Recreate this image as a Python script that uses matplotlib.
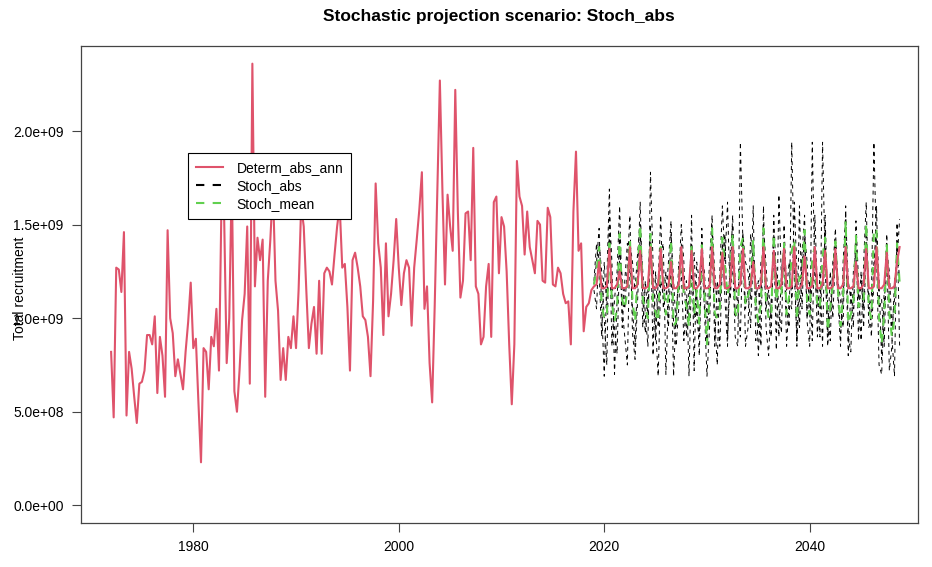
import matplotlib.pyplot as plt
import numpy as np

plt.rcParams["font.family"] = ["Liberation Sans", "DejaVu Sans"]

# quarterly recruitment, in units of 1e9
start_year = 1972.0
proj_start = 2019.0

determ_hist = [
    0.82, 0.47, 1.27, 1.26, 1.14, 1.46, 0.48, 0.82, 0.73, 0.58, 0.44, 0.65,
    0.66, 0.72, 0.91, 0.91, 0.86, 1.01, 0.60, 0.90, 0.80, 0.58, 1.47, 1.00,
    0.92, 0.69, 0.78, 0.70, 0.62, 0.82, 0.98, 1.19, 0.84, 0.89, 0.55, 0.23,
    0.84, 0.82, 0.62, 0.90, 0.85, 1.05, 0.72, 1.64, 1.55, 0.76, 1.00, 1.76,
    0.61, 0.50, 0.72, 0.99, 1.13, 1.49, 0.65, 2.36, 1.17, 1.43, 1.31, 1.42,
    0.58, 1.20, 1.42, 1.70, 1.20, 1.04, 0.67, 0.84, 0.67, 0.90, 0.84, 1.01,
    0.84, 1.15, 1.60, 1.49, 1.15, 0.84, 0.97, 1.06, 0.81, 1.20, 0.81, 1.24,
    1.27, 1.25, 1.18, 1.34, 1.49, 1.60, 1.27, 1.29, 1.06, 0.72, 1.31, 1.35,
    1.27, 1.17, 1.01, 0.99, 0.90, 0.69, 1.09, 1.72, 1.40, 1.27, 0.91, 1.40,
    1.01, 1.13, 1.31, 1.53, 1.27, 1.07, 1.24, 1.31, 1.27, 0.96, 1.27, 1.42,
    1.58, 1.78, 1.05, 1.17, 0.76, 0.55, 1.07, 1.66, 2.27, 1.68, 1.18, 1.66,
    1.49, 1.36, 2.22, 1.57, 1.11, 1.20, 1.56, 1.57, 1.31, 1.91, 1.17, 1.13,
    0.86, 0.90, 1.17, 1.29, 0.90, 1.62, 1.65, 1.24, 1.54, 1.49, 1.25, 0.86,
    0.54, 0.86, 1.84, 1.65, 1.60, 1.34, 1.57, 1.38, 1.31, 1.24, 1.52, 1.50,
    1.20, 1.19, 1.59, 1.54, 1.18, 1.17, 1.27, 1.24, 1.13, 1.08, 1.09, 0.86,
    1.57, 1.89, 1.36, 1.40, 0.93, 1.06, 1.08, 1.15,
]

# deterministic projection 2019-2048 (one year per group of four)
determ_proj = [
    1.17, 1.18, 1.30, 1.16,  1.16, 1.17, 1.37, 1.16,  1.16, 1.18, 1.25, 1.16,
    1.16, 1.17, 1.38, 1.16,  1.16, 1.18, 1.36, 1.16,  1.16, 1.17, 1.38, 1.16,
    1.16, 1.18, 1.37, 1.16,  1.16, 1.17, 1.30, 1.16,  1.16, 1.18, 1.38, 1.16,
    1.16, 1.17, 1.36, 1.16,  1.16, 1.18, 1.37, 1.16,  1.16, 1.17, 1.38, 1.16,
    1.16, 1.18, 1.35, 1.16,  1.16, 1.17, 1.38, 1.16,  1.16, 1.18, 1.37, 1.16,
    1.16, 1.17, 1.30, 1.16,  1.16, 1.18, 1.38, 1.16,  1.16, 1.17, 1.36, 1.16,
    1.16, 1.18, 1.37, 1.16,  1.16, 1.17, 1.38, 1.16,  1.16, 1.18, 1.33, 1.16,
    1.16, 1.17, 1.38, 1.16,  1.16, 1.18, 1.36, 1.16,  1.16, 1.17, 1.37, 1.16,
    1.16, 1.18, 1.38, 1.16,  1.16, 1.17, 1.30, 1.16,  1.16, 1.18, 1.37, 1.16,
    1.16, 1.17, 1.38, 1.16,  1.16, 1.18, 1.35, 1.16,  1.16, 1.17, 1.30, 1.38,
]

stoch_run1 = [
    1.18, 1.30, 1.48, 1.05,  0.69, 1.20, 1.69, 1.10,  0.95, 0.81, 1.35, 1.22,
    1.05, 1.28, 1.55, 0.92,  0.78, 1.10, 1.45, 1.25,  1.02, 0.85, 1.78, 1.30,
    0.95, 0.69, 1.20, 1.12,  1.10, 1.30, 1.52, 0.98,  0.85, 1.05, 1.40, 1.15,
    1.20, 0.69, 1.25, 1.35,  1.00, 0.90, 1.48, 1.10,  0.88, 1.15, 1.38, 1.00,
    0.75, 1.25, 1.60, 1.30,  1.62, 1.10, 1.30, 0.90,  0.85, 1.94, 1.40, 1.05,
    1.15, 0.95, 1.35, 1.20,  0.80, 1.10, 1.50, 1.28,  1.05, 0.90, 1.45, 0.83,
    1.66, 1.20, 1.30, 1.05,  0.95, 1.94, 1.25, 0.88,  1.10, 1.35, 1.55, 0.98,
    0.85, 1.94, 1.20, 1.10,  0.90, 1.94, 1.30, 0.85,  1.05, 1.25, 1.48, 1.15,
    0.92, 1.10, 1.40, 0.80,  1.15, 0.95, 1.52, 1.20,  0.88, 1.30, 1.62, 1.05,
    1.10, 1.94, 1.35, 0.75,  0.70, 1.05, 1.45, 1.10,  0.90, 0.69, 1.51, 0.85,
]

stoch_run2 = [
    1.15, 1.05, 1.40, 1.25,  1.00, 0.75, 1.55, 1.30,  0.70, 1.10, 1.45, 0.95,
    1.20, 1.40, 1.30, 1.05,  0.85, 1.25, 1.62, 1.10,  0.92, 1.15, 1.50, 0.80,
    1.25, 0.95, 1.35, 1.40,  0.70, 1.10, 1.45, 1.20,  0.95, 1.30, 1.25, 0.88,
    1.10, 1.00, 1.55, 0.72,  1.30, 1.20, 1.35, 1.05,  0.69, 0.95, 1.50, 1.25,
    1.05, 0.85, 1.30, 1.45,  0.90, 1.20, 1.55, 1.00,  1.10, 1.30, 1.45, 0.85,
    0.95, 1.45, 1.30, 1.10,  1.20, 0.85, 1.60, 0.95,  0.80, 1.10, 1.35, 1.25,
    1.05, 0.92, 1.50, 1.15,  1.30, 1.10, 1.40, 0.85,  1.60, 1.05, 1.45, 1.30,
    1.00, 1.20, 1.35, 0.90,  1.25, 0.85, 1.55, 1.05,  0.88, 1.30, 1.40, 1.20,
    1.10, 0.95, 1.60, 0.90,  0.82, 1.25, 1.35, 1.10,  1.20, 1.05, 1.50, 0.95,
    1.00, 1.30, 1.45, 1.20,  0.78, 1.15, 1.40, 0.72,  0.85, 1.20, 1.30, 1.53,
]

stoch_run3 = [
    1.20, 1.40, 1.25, 0.90,  1.30, 1.05, 1.45, 0.85,  1.10, 1.25, 1.60, 1.05,
    0.90, 0.75, 1.40, 1.30,  1.15, 1.35, 1.50, 0.95,  1.20, 1.00, 1.40, 1.15,
    0.88, 1.20, 1.55, 1.05,  1.25, 0.95, 1.30, 0.69,  1.05, 1.20, 1.50, 1.30,
    0.90, 1.15, 1.40, 1.00,  1.15, 0.80, 1.35, 1.25,  1.00, 1.30, 1.55, 0.85,
    1.20, 1.05, 1.40, 1.10,  0.85, 1.35, 1.50, 1.20,  1.05, 0.90, 1.45, 1.30,
    1.25, 1.10, 1.60, 0.88,  0.95, 1.30, 1.35, 1.05,  1.15, 1.00, 1.55, 1.20,
    0.90, 1.25, 1.40, 0.85,  1.10, 1.05, 1.62, 1.25,  0.95, 1.30, 1.40, 1.00,
    1.20, 0.88, 1.55, 1.15,  1.05, 1.20, 1.45, 0.90,  1.25, 1.00, 1.35, 1.10,
    0.85, 1.30, 1.55, 1.20,  1.10, 1.05, 1.45, 0.88,  1.25, 0.95, 1.40, 1.15,
    0.90, 1.20, 1.60, 1.05,  1.10, 0.85, 1.35, 1.25,  0.95, 1.10, 1.40, 1.20,
]

stoch_mean = [
    1.18, 1.25, 1.38, 1.07,  1.00, 1.00, 1.40, 1.08,  0.98, 1.05, 1.45, 1.10,
    1.05, 1.15, 1.42, 1.09,  0.98, 1.25, 1.50, 1.10,  1.05, 1.00, 1.45, 1.08,
    1.03, 0.98, 1.38, 1.19,  1.02, 1.12, 1.42, 0.96,  0.98, 1.18, 1.38, 1.11,
    1.07, 0.95, 1.40, 1.02,  1.15, 0.97, 1.39, 1.13,  0.86, 1.13, 1.48, 1.03,
    1.00, 1.05, 1.43, 1.28,  1.12, 1.22, 1.45, 1.03,  1.00, 1.38, 1.43, 1.07,
    1.12, 1.17, 1.42, 1.06,  0.98, 1.08, 1.48, 1.09,  1.00, 1.00, 1.45, 1.09,
    1.20, 1.12, 1.40, 1.02,  1.12, 1.36, 1.42, 0.99,  1.22, 1.23, 1.47, 1.09,
    1.02, 1.34, 1.37, 1.05,  1.07, 1.33, 1.43, 0.93,  1.06, 1.18, 1.41, 1.15,
    0.96, 1.12, 1.52, 0.97,  1.02, 1.08, 1.44, 1.06,  1.11, 1.10, 1.51, 1.05,
    1.00, 1.48, 1.47, 1.00,  0.86, 1.02, 1.40, 1.02,  0.90, 1.00, 1.40, 1.19,
]

RED = "#DF536B"
GREEN = "#61D04F"
SCALE = 1e9

determ = np.array(determ_hist + determ_proj) * SCALE
t_all = start_year + np.arange(len(determ)) / 4
t_proj = proj_start + np.arange(len(stoch_mean)) / 4

fig = plt.figure(figsize=(9.32, 5.67), dpi=100)
ax = fig.add_axes([81 / 932, 1 - 523 / 567, 837 / 932, 477 / 567])

dash = (0, (4, 4))
for run in (stoch_run1, stoch_run2, stoch_run3):
    ax.plot(t_proj, np.array(run) * SCALE, color="black", lw=0.7, linestyle=dash)
ax.plot(t_proj, np.array(stoch_mean) * SCALE, color=GREEN, lw=1.5, linestyle=dash)
ax.plot(t_all, determ, color=RED, lw=1.5)

# R-style limits: data range plus 4% on each side
ymax = determ.max()
ax.set_ylim(-0.04 * ymax, 1.04 * ymax)
ax.set_xlim(1969.07, 2050.54)

yt = np.arange(0, 2.01e9, 0.5e9)
ax.set_xticks([1980, 2000, 2020, 2040])
ax.set_yticks(yt)
ax.set_yticklabels([f"{v:.1e}" for v in yt])
ax.tick_params(direction="out", length=6.5, width=0.8, color="#444444",
               labelsize=10, pad=6)
for s in ax.spines.values():
    s.set_color("#444444")
    s.set_linewidth(0.9)

fig.text(499 / 932, 1 - 16 / 567, "Stochastic projection scenario: Stoch_abs",
         ha="center", va="center", fontsize=12.5, fontweight="bold")
fig.text(20 / 932, 1 - 288 / 567, "Total recruitment", rotation=90,
         ha="center", va="center", fontsize=10)

handles = [
    plt.Line2D([], [], color=RED, lw=1.5),
    plt.Line2D([], [], color="black", lw=1.5, linestyle=dash),
    plt.Line2D([], [], color=GREEN, lw=1.5, linestyle=dash),
]
leg = fig.legend(handles, ["Determ_abs_ann", "Stoch_abs", "Stoch_mean"],
                 loc="upper left", bbox_to_anchor=(188 / 932, 1 - 153 / 567),
                 fontsize=10, frameon=True, fancybox=False, framealpha=1,
                 edgecolor="black", handlelength=2.0, handletextpad=0.95,
                 labelspacing=0.3, borderpad=0.55, borderaxespad=0)
leg.get_frame().set_linewidth(0.8)

fig.savefig("out.png", dpi=100)
